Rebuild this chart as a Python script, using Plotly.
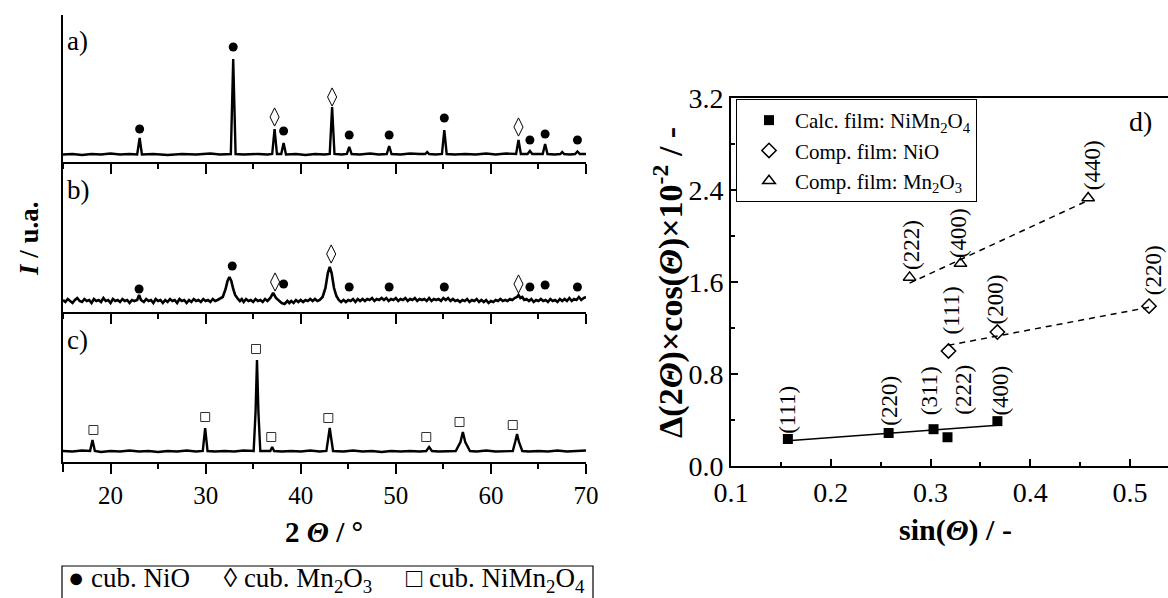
import plotly.graph_objects as go

W, H = 1168, 598
FONT = "Liberation Serif"

# ---------------- XRD patterns (2theta in deg, intensity in a.u.) ----------------
a_profile = [
    (15, 0.5), (16, 1), (17, 0), (18, 1), (19, 0.5), (20, 1.5), (21, 0.5), (22, 1), (22.8, 0.5), (23.06, 17), (23.3, 0.5),
    (24.5, 1), (26, 0), (27.5, 1), (29, 0.5), (30.5, 1.5), (31.5, 0.5), (32.65, 1), (32.9, 96), (33.15, 1),
    (34, 0.5), (35.5, 1), (36.5, 0.5), (37.0, 1), (37.25, 26), (37.5, 1), (37.95, 1), (38.2, 12), (38.45, 0.5),
    (39.5, 1), (40.5, 0), (41.5, 1), (42.5, 0.5), (43.05, 1), (43.3, 48), (43.55, 1), (44.3, 0.5), (44.85, 1), (45.1, 8), (45.35, 1),
    (46.2, 0.5), (47.3, 1.5), (48.2, 0.5), (49.05, 1), (49.3, 9), (49.55, 1), (50.5, 0.5), (51.5, 1.5), (52.5, 1),
    (53.1, 1), (53.3, 3), (53.5, 1), (54.2, 0.5), (54.85, 1), (55.1, 25), (55.35, 1),
    (56.2, 0.5), (57.3, 1), (58.4, 0.5), (59.5, 1.5), (60.5, 0.5), (61.6, 1.5), (62.65, 1), (62.9, 15), (63.15, 1),
    (63.85, 1), (64.1, 4), (64.35, 1), (65.45, 1), (65.7, 11), (65.95, 1), (66.7, 0.5), (67.3, 1), (67.5, 3), (67.7, 1),
    (68.3, 0.5), (68.85, 1), (69.1, 3.5), (69.35, 1), (70, 1),
]
b_profile = [
    (15, 3), (15.25, 1), (15.5, 4), (15.75, 2), (16, 0), (16.25, 3), (16.5, 5), (16.75, 2), (17, 1), (17.25, 4),
    (17.5, 2), (17.75, 3), (18, 0), (18.25, 4), (18.5, 2), (18.75, 3), (19, 1), (19.25, 5), (19.5, 2), (19.75, 3),
    (20, 0), (20.25, 4), (20.5, 2), (20.75, 3), (21, 1), (21.25, 4), (21.5, 2), (21.75, 3), (22, 0), (22.25, 3),
    (22.5, 2), (22.8, 3), (23.0, 8), (23.2, 3), (23.5, 1), (23.75, 4), (24, 2), (24.25, 3), (24.5, 0), (24.75, 4),
    (25, 2), (25.25, 3), (25.5, 0), (25.75, 3), (26, 1), (26.25, 4), (26.5, 2), (26.75, 3), (27, 0), (27.25, 4),
    (27.5, 2), (27.75, 3), (28, 0), (28.25, 3), (28.5, 1), (28.75, 4), (29, 2), (29.25, 3), (29.5, 1), (29.75, 4),
    (30, 2), (30.25, 3), (30.5, 1), (30.75, 4), (31, 2), (31.25, 3), (31.5, 4), (31.8, 6), (32.1, 14), (32.3, 22),
    (32.5, 26), (32.7, 22), (32.9, 14), (33.1, 8), (33.4, 4), (33.6, 2), (33.8, 4), (34.0, 1), (34.25, 4), (34.5, 2),
    (34.75, 3), (35, 1), (35.25, 4), (35.5, 2), (35.75, 3), (36, 1), (36.25, 4), (36.5, 2), (36.8, 5), (37.1, 10),
    (37.4, 5), (37.7, 2), (38, 0), (38.3, -1), (38.6, 2), (38.8, 0), (39, 2), (39.25, 0), (39.5, 3), (39.75, 1),
    (40, 3), (40.25, 1), (40.5, 3), (40.75, 2), (41, 4), (41.25, 2), (41.5, 4), (41.75, 2), (42, 3), (42.3, 6),
    (42.6, 15), (42.85, 30), (43.05, 36), (43.25, 30), (43.5, 15), (43.75, 7), (44, 3), (44.25, 1), (44.5, 3),
    (44.75, 1), (45, 3), (45.25, 2), (45.5, 4), (45.75, 1), (46, 4), (46.25, 2), (46.5, 4), (46.75, 2), (47, 4),
    (47.25, 3), (47.5, 5), (47.75, 2), (48, 4), (48.25, 3), (48.5, 5), (48.75, 3), (49, 5), (49.25, 2), (49.5, 4),
    (49.75, 3), (50, 5), (50.25, 2), (50.5, 4), (50.75, 3), (51, 5), (51.25, 2), (51.5, 4), (51.75, 3), (52, 5),
    (52.25, 2), (52.5, 4), (52.75, 3), (53, 4), (53.25, 2), (53.5, 5), (53.75, 2), (54, 4), (54.25, 3), (54.5, 4),
    (54.75, 2), (55, 5), (55.25, 3), (55.5, 5), (55.75, 2), (56, 4), (56.25, 2), (56.5, 3), (56.75, 1), (57, 3),
    (57.25, 2), (57.5, 4), (57.75, 1), (58, 3), (58.25, 2), (58.5, 4), (58.75, 1), (59, 3), (59.25, 1), (59.5, 3),
    (59.75, 0), (60, 2), (60.25, 1), (60.5, 3), (60.75, 2), (61, 4), (61.25, 2), (61.5, 3), (61.75, 2), (62, 4),
    (62.25, 3), (62.5, 5), (62.75, 6), (62.9, 8), (63.1, 5), (63.3, 6), (63.5, 3), (63.75, 4), (64, 2), (64.25, 4),
    (64.5, 1), (64.75, 3), (65, 2), (65.25, 4), (65.5, 2), (65.75, 3), (66, 1), (66.25, 4), (66.5, 2), (66.75, 3),
    (67, 1), (67.25, 4), (67.5, 2), (67.75, 4), (68, 2), (68.25, 5), (68.5, 2), (68.75, 4), (69, 3), (69.25, 6),
    (69.5, 3), (69.75, 5), (70, 6),
]
c_profile = [
    (15, 1), (16, 0.5), (17, 1.5), (17.85, 1), (18.1, 12), (18.35, 1), (19, 0), (20, 1), (21, 0.5), (22, 1.5),
    (23, 0.5), (24, 1), (25, 0), (26, 1), (27, 0.5), (28, 1.5), (29, 0.5), (29.7, 1), (29.95, 24), (30.2, 1),
    (31, 0.5), (32, 1), (33, 0.5), (34, 1.5), (35.05, 1), (35.25, 40), (35.4, 92), (35.55, 40), (35.75, 1),
    (36.5, 1.5), (36.8, 1), (37.0, 5), (37.2, 1), (38, 0.5), (39, 1), (40, 0.5), (41, 1.5), (42, 0.5), (42.7, 1),
    (42.9, 14), (43.05, 24), (43.2, 14), (43.4, 1), (44.5, 0.5), (45.5, 1.5), (46.5, 0.5), (47.5, 1), (48.5, 0),
    (49.5, 1), (50.5, 0.5), (51.5, 1), (52.5, 0.5), (53.2, 1), (53.5, 5), (53.8, 1), (54.5, 0.5), (55.5, 1),
    (56.3, 1), (56.8, 10), (57.05, 20), (57.3, 10), (57.8, 1), (58.5, 0.5), (59.5, 1.5), (60.5, 0.5), (61.5, 1),
    (62.3, 1), (62.55, 10), (62.75, 18), (62.95, 10), (63.3, 1), (64, 0.5), (65, 1), (66, 0.5), (67, 1.5),
    (68, 0.5), (69, 1), (70, 1.5),
]

# phase markers
a_dot_x = [23.06, 32.9, 38.2, 45.1, 49.3, 55.1, 64.1, 65.7, 69.1]
a_dot_y = [26, 108, 24, 20, 20, 37, 15, 21, 15]
a_dia_x = [37.25, 43.3, 62.9]
a_dia_y = [38, 58, 28]
b_dot_x = [23.0, 32.8, 38.2, 45.1, 49.3, 55.1, 64.1, 65.7, 69.1]
b_dot_y = [14, 37, 19, 16, 16, 16, 16, 18, 16]
b_dia_x = [37.3, 43.2, 62.9]
b_dia_y = [21, 49, 19]
c_sq_x = [18.2, 29.95, 35.3, 36.9, 42.9, 53.2, 56.7, 62.3]
c_sq_y = [22, 35, 103, 15, 34, 15, 30, 27]

panel_labels = ["a)", "b)", "c)"]
x_ticks = [20, 30, 40, 50, 60, 70]

# ---------------- Williamson-Hall plot ----------------
calc_x = [0.157, 0.258, 0.303, 0.317, 0.367]
calc_y = [0.235, 0.287, 0.32, 0.25, 0.39]
calc_hkl = ["(111)", "(220)", "(311)", "(222)", "(400)"]
calc_fit_x = [0.157, 0.367]
calc_fit_y = [0.22, 0.355]

nio_x = [0.318, 0.367, 0.519]
nio_y = [1.0, 1.165, 1.39]
nio_hkl = ["(111)", "(200)", "(220)"]
nio_fit_x = [0.318, 0.519]
nio_fit_y = [1.05, 1.38]

mn_x = [0.279, 0.33, 0.458]
mn_y = [1.64, 1.76, 2.33]
mn_hkl = ["(222)", "(400)", "(440)"]
mn_fit_x = [0.279, 0.458]
mn_fit_y = [1.59, 2.31]

# label offsets in pixels (style)
calc_off = [(0, 3), (0, 5), (-4, 12), (16, 20), (3, 4)]
nio_off = [(2, 14), (-2, 6), (4, 9)]
mn_off = [(2, 5), (-2, 4), (4, 6)]


def px(x):
    return x / W


def py(y):
    return 1 - y / H


fig = go.Figure()

profiles = [a_profile, b_profile, c_profile]
widths = [2.4, 2.6, 2.4]
for i, prof in enumerate(profiles):
    n = "" if i == 0 else str(i + 1)
    fig.add_trace(go.Scatter(x=[p[0] for p in prof], y=[p[1] for p in prof], mode="lines",
                             line=dict(color="black", width=widths[i]), xaxis="x" + n, yaxis="y" + n,
                             showlegend=False, hoverinfo="skip"))

dot = dict(symbol="circle", size=9, color="black")
dia = dict(symbol="diamond-tall-open", size=13, color="black", line=dict(width=1, color="black"))
sq = dict(symbol="square-open", size=9, color="#333", line=dict(width=1, color="#333"))
for xs, ys, mk, ax in [(a_dot_x, a_dot_y, dot, ""), (a_dia_x, a_dia_y, dia, ""),
                       (b_dot_x, b_dot_y, dot, "2"), (b_dia_x, b_dia_y, dia, "2"),
                       (c_sq_x, c_sq_y, sq, "3")]:
    fig.add_trace(go.Scatter(x=xs, y=ys, mode="markers", marker=mk, xaxis="x" + ax, yaxis="y" + ax,
                             showlegend=False, hoverinfo="skip"))

# Williamson-Hall traces
fig.add_trace(go.Scatter(x=calc_fit_x, y=calc_fit_y, mode="lines", line=dict(color="black", width=1.5),
                         xaxis="x4", yaxis="y4", showlegend=False))
fig.add_trace(go.Scatter(x=nio_fit_x, y=nio_fit_y, mode="lines", line=dict(color="black", width=1.5, dash="6px,5px"),
                         xaxis="x4", yaxis="y4", showlegend=False))
fig.add_trace(go.Scatter(x=mn_fit_x, y=mn_fit_y, mode="lines", line=dict(color="black", width=1.5, dash="6px,5px"),
                         xaxis="x4", yaxis="y4", showlegend=False))
fig.add_trace(go.Scatter(x=calc_x, y=calc_y, mode="markers", name="Calc. film: NiMn<sub>2</sub>O<sub>4</sub>",
                         marker=dict(symbol="square", size=10, color="black"), xaxis="x4", yaxis="y4"))
fig.add_trace(go.Scatter(x=nio_x, y=nio_y, mode="markers", name="Comp. film: NiO",
                         marker=dict(symbol="diamond-open", size=11, color="black", line=dict(width=1.5)),
                         xaxis="x4", yaxis="y4"))
fig.add_trace(go.Scatter(x=mn_x, y=mn_y, mode="markers", name="Comp. film: Mn<sub>2</sub>O<sub>3</sub>",
                         marker=dict(symbol="triangle-up-open", size=11, color="black", line=dict(width=1.5)),
                         xaxis="x4", yaxis="y4"))

annotations = []
for xs, ys, labels, offs in [(calc_x, calc_y, calc_hkl, calc_off), (nio_x, nio_y, nio_hkl, nio_off),
                             (mn_x, mn_y, mn_hkl, mn_off)]:
    for xv, yv, t, (dx, dy) in zip(xs, ys, labels, offs):
        annotations.append(dict(x=xv, y=yv, xref="x4", yref="y4", text=t, textangle=-90, showarrow=False,
                                xanchor="center", yanchor="bottom", xshift=dx, yshift=dy,
                                font=dict(family=FONT, size=23, color="black")))

# panel letters
for lab, top in zip(panel_labels, [24, 173, 323]):
    annotations.append(dict(x=px(65), y=py(top), xref="paper", yref="paper", text=lab, showarrow=False,
                            xanchor="left", yanchor="top", font=dict(family=FONT, size=27, color="black")))
annotations.append(dict(x=px(1140), y=py(122), xref="paper", yref="paper", text="d)", showarrow=False,
                        xanchor="center", yanchor="middle", font=dict(family=FONT, size=28, color="black")))

# axis titles
annotations.append(dict(x=px(29), y=py(239), xref="paper", yref="paper", text="<b><i>I</i> / u.a.</b>",
                        textangle=-90, showarrow=False, xanchor="center", yanchor="middle",
                        font=dict(family=FONT, size=27, color="black")))
annotations.append(dict(x=px(324), y=py(532), xref="paper", yref="paper", text="<b>2 <i>Θ</i> / °</b>",
                        showarrow=False, xanchor="center", yanchor="middle",
                        font=dict(family=FONT, size=29, color="black")))
annotations.append(dict(x=px(668), y=py(283), xref="paper", yref="paper",
                        text="<b>Δ(2<i>Θ</i>)×cos(<i>Θ</i>)×10<sup>-2</sup> / -</b>",
                        textangle=-90, showarrow=False, xanchor="center", yanchor="middle",
                        font=dict(family=FONT, size=34, color="black")))
annotations.append(dict(x=px(955), y=py(530), xref="paper", yref="paper",
                        text="<b>sin(<i>Θ</i>) / -</b>", showarrow=False, xanchor="center", yanchor="middle",
                        font=dict(family=FONT, size=30, color="black")))
# left phase key
annotations.append(dict(x=px(66), y=py(580), xref="paper", yref="paper",
                        text="● cub. NiO     ◊ cub. Mn<sub>2</sub>O<sub>3</sub>     □ cub. NiMn<sub>2</sub>O<sub>4</sub>",
                        showarrow=False, xanchor="left", yanchor="middle",
                        font=dict(family=FONT, size=27, color="black")))

shapes = [
    dict(type="rect", xref="paper", yref="paper", x0=px(62), x1=px(593), y0=py(566), y1=py(610),
         line=dict(color="black", width=1.2)),
    dict(type="line", xref="paper", yref="paper", x0=px(63), x1=px(63), y0=py(462), y1=py(472),
         line=dict(color="black", width=2)),
]

left_dom = [px(63), px(586)]
ydoms = [[py(162), py(15)], [py(312), py(162)], [py(462), py(312)]]
yranges = [[-7, 140], [-9, 141], [-10, 140]]

layout = dict(template="none", width=W, height=H, margin=dict(l=0, r=0, t=0, b=0, autoexpand=False),
              paper_bgcolor="white", plot_bgcolor="rgba(0,0,0,0)", annotations=annotations, shapes=shapes,
              font=dict(family=FONT, color="black"))

for i in range(3):
    n = "" if i == 0 else str(i + 1)
    layout["xaxis" + n] = dict(domain=left_dom, range=[15, 70], anchor="y" + n, showline=True, automargin=False,
                               linecolor="black", linewidth=2, ticks="outside", ticklen=10, tickwidth=1.5,
                               tickcolor="black", tickvals=x_ticks, showgrid=False, zeroline=False,
                               showticklabels=(i == 2), tickfont=dict(family=FONT, size=25, color="black"),
                               minor=dict(tickvals=[15, 25, 35, 45, 55, 65], ticks="outside", ticklen=5,
                                          tickwidth=1.5, tickcolor="black", showgrid=False))
    layout["yaxis" + n] = dict(domain=ydoms[i], range=yranges[i], anchor="x" + n, showline=True, automargin=False,
                               linecolor="black", linewidth=2, ticks="", showticklabels=False,
                               showgrid=False, zeroline=False)

layout["xaxis4"] = dict(domain=[px(731), 1], range=[0.1, 0.538], anchor="y4", showline=True, mirror=True,
                        automargin=False,
                        linecolor="black", linewidth=2, ticks="inside", ticklen=7, tickwidth=1.5,
                        tickcolor="black", tickvals=[0.1, 0.2, 0.3, 0.4, 0.5], ticktext=["0.1", "0.2", "0.3", "0.4", "0.5"],
                        showgrid=False, zeroline=False, tickfont=dict(family=FONT, size=28, color="black"),
                        minor=dict(tickvals=[0.15, 0.25, 0.35, 0.45], ticks="inside", ticklen=4, tickwidth=1.5,
                                   tickcolor="black", showgrid=False))
layout["yaxis4"] = dict(domain=[py(466), py(98)], range=[0, 3.2], anchor="x4", showline=True, automargin=False,
                        linecolor="black", linewidth=2, ticks="inside", ticklen=7, tickwidth=1.5,
                        tickcolor="black", tickvals=[0, 0.8, 1.6, 2.4, 3.2],
                        ticktext=["0.0", "0.8", "1.6", "2.4", "3.2"], showgrid=False, zeroline=False,
                        tickfont=dict(family=FONT, size=28, color="black"),
                        minor=dict(tickvals=[0.4, 1.2, 2.0, 2.8], ticks="inside", ticklen=4, tickwidth=1.5,
                                   tickcolor="black", showgrid=False))
layout["legend"] = dict(x=px(736), y=py(99), xanchor="left", yanchor="top", bgcolor="white",
                        bordercolor="black", borderwidth=1, font=dict(family=FONT, size=21, color="black"),
                        tracegroupgap=0, indentation=6, itemwidth=42)

fig.update_layout(**layout)
fig.write_html("out.html", config={"displayModeBar": False},
               post_script="document.body.style.margin='0';document.body.style.overflow='hidden';")
